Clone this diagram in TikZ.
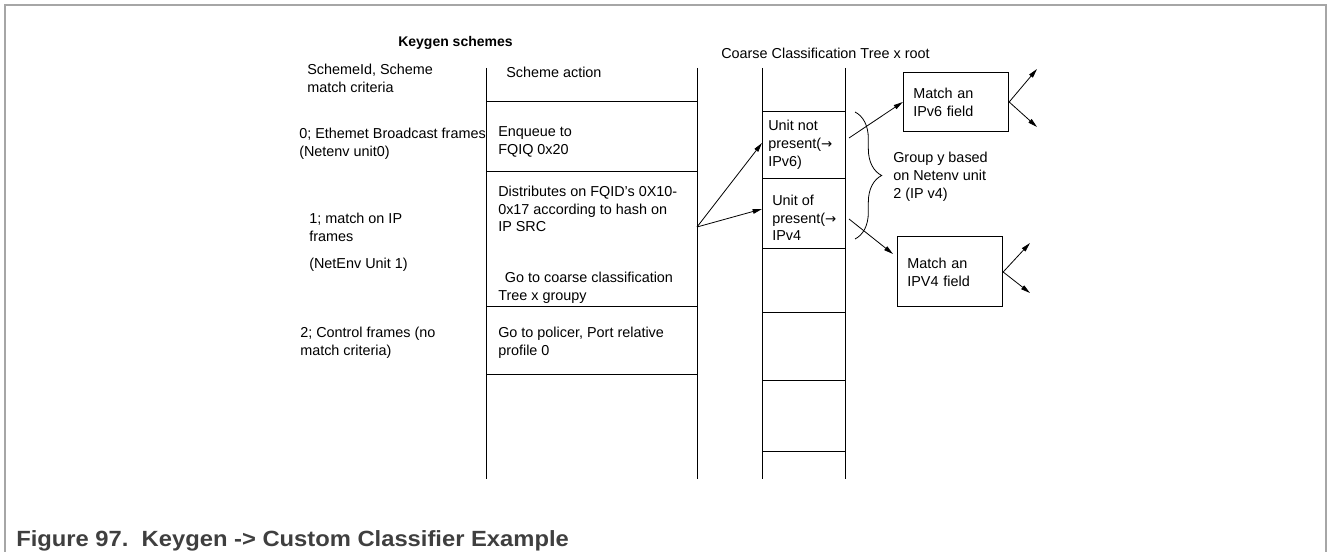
\documentclass[tikz,border=0pt]{standalone}
\usepackage{fontspec}
\setmainfont{Liberation Sans}
\newfontfamily\arrowfont{DejaVu Sans}
\usepackage{xcolor}
\usepackage{tikz}
\usetikzlibrary{positioning, arrows.meta, calc, decorations.pathreplacing}
\definecolor{framegray}{HTML}{A6A6A6}
\definecolor{captiongray}{HTML}{3F3F3F}
\newcommand{\unitarrow}{{\arrowfont\fontsize{10pt}{13.3pt}\selectfont →}}

\begin{document}
\begin{tikzpicture}[x=0.75pt, y=-0.75pt,
    txt/.style={anchor=west, align=left, inner sep=0pt, font=\fontsize{10.8pt}{13.3pt}\selectfont},
    fieldbox/.style={draw, line width=0.75pt, inner xsep=7.5pt, inner ysep=0pt, text width=64pt, align=left, font=\fontsize{10.8pt}{13.3pt}\selectfont},
    arr/.style={-{Triangle[length=7pt, width=3.5pt]}, line width=0.6pt},
    rule/.style={line width=0.75pt}]
    \useasboundingbox (0,0) rectangle (1328,552);
    \draw[framegray, line width=1.1pt] (5,552) -- (5,5) -- (1326,5) -- (1326,552);

    \node[txt, font=\bfseries\fontsize{10.5pt}{13pt}\selectfont] (kgtitle) at (398,43) {Keygen schemes};
    \node[txt] (cctitle) at (721,53) {Coarse Classification Tree x root};

    \draw[rule] (486,68) -- (486,479) (697,68) -- (697,479)
      (486,102) -- (697,102) (486,172) -- (697,172) (486,307) -- (697,307) (486,374) -- (697,374);
    \draw[rule] (762,68) -- (762,479) (845,68) -- (845,479)
      (762,112) -- (845,112) (762,179) -- (845,179) (762,249) -- (845,249)
      (762,313) -- (845,313) (762,380) -- (845,380) (762,451) -- (845,451);

    \node[txt] (schemehdr) at (307,78) {SchemeId, Scheme\\match criteria};
    \node[txt] (schemezero) at (299,144) {0; Ethemet Broadcast frames\\(Netenv unit0)};
    \node[txt] (schemeone) at (309,227) {1; match on IP\\frames};
    \node[txt] (netenvone) at (309,265) {(NetEnv Unit 1)};
    \node[txt] (schemetwo) at (300,343) {2; Control frames (no\\match criteria)};

    \node[txt] (acthdr) at (506,72) {Scheme action};
    \node[txt] (actenq) at (498,142) {Enqueue to\\FQIQ 0x20};
    \node[txt] (actdist) at (498,209) {Distributes on FQID's 0X10-\\0x17 according to hash on\\IP SRC};
    \node[txt] (actcoarse) at (498,288) {\hspace*{5pt}Go to coarse classification\\Tree x groupy};
    \node[txt] (actpolicer) at (498,343) {Go to policer, Port relative\\profile 0};

    \node[txt] (unitsix) at (768,145) {Unit not\\present(\unitarrow\\IPv6)};
    \node[txt] (unitfour) at (772,218) {Unit of\\present(\unitarrow\\IPv4};

    \node[fieldbox, minimum height=44pt] (fieldsix) at (956,102) {Match an\\IPv6 field};
    \node[fieldbox, minimum height=52.5pt] (fieldfour) at (950,272) {Match an\\IPV4 field};

    \draw[decorate, decoration={brace, amplitude=20pt}, line width=0.6pt] (855,112) -- (855,239);
    \node[txt] (grouplbl) at (893,177) {Group y based\\on Netenv unit\\2 (IP v4)};

    \coordinate (kgout) at (697,227);
    \coordinate (ccsix) at (762,143);
    \coordinate (ccfour) at (762,209);
    \coordinate (sixout) at (849,138);
    \coordinate (fourout) at (849,219);
    \coordinate (fourin) at (893,254);
    \coordinate (sixup) at (1037,69);
    \coordinate (sixdown) at (1037,127);
    \coordinate (fourup) at (1030,243);
    \coordinate (fourdown) at (1030,293);

    \draw[arr] (kgout) -- (ccsix);
    \draw[arr] (kgout) -- (ccfour);
    \draw[arr] (sixout) -- (fieldsix.west);
    \draw[arr] (fourout) -- (fourin);
    \draw[arr] (fieldsix.east) -- (sixup);
    \draw[arr] (fieldsix.east) -- (sixdown);
    \draw[arr] (fieldfour.east) -- (fourup);
    \draw[arr] (fieldfour.east) -- (fourdown);

    \node[anchor=base west, inner sep=0pt, xscale=1.08, transform shape, text=captiongray,
      font=\bfseries\fontsize{16.5pt}{20pt}\selectfont] (caption) at (16,546) {Figure 97.\ \ Keygen -> Custom Classifier Example};
  \end{tikzpicture}
\end{document}
